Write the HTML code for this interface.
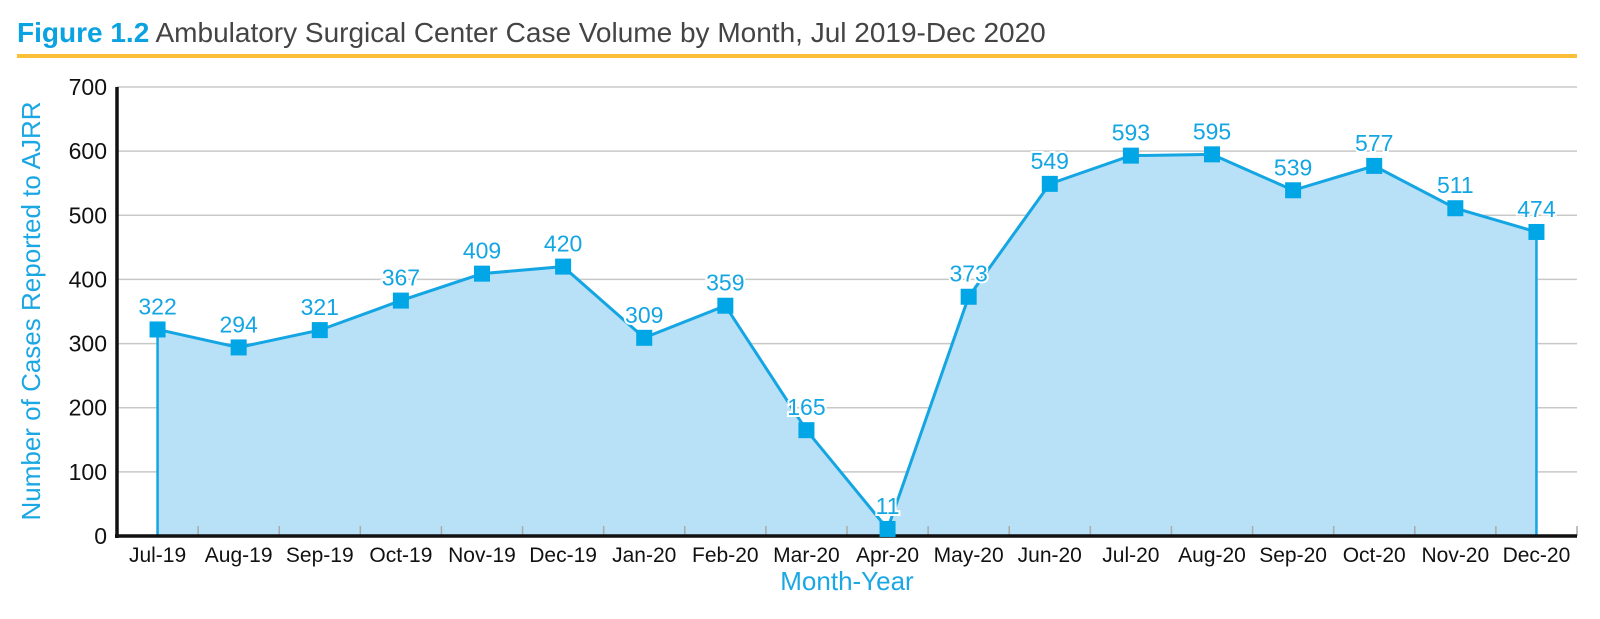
<!DOCTYPE html>
<html><head><meta charset="utf-8"><style>
html,body{margin:0;padding:0;background:#fff;width:1600px;height:619px;overflow:hidden}
svg text{font-family:"Liberation Sans",sans-serif}
</style></head><body>
<svg id="chart" width="1600" height="619" viewBox="0 0 1600 619" xmlns="http://www.w3.org/2000/svg">
<text x="17" y="42" font-size="28"><tspan fill="#0aa2e0" font-weight="bold">Figure 1.2</tspan><tspan fill="#444"> Ambulatory Surgical Center Case Volume by Month, Jul 2019-Dec 2020</tspan></text>
<rect x="17" y="54" width="1560" height="4" fill="#fbbf3a"/>
<g id="grid"></g>
<g id="area"></g>
<g id="axes"></g>
<g id="marks"></g>
<text transform="translate(40,311) rotate(-90)" text-anchor="middle" font-size="26" fill="#1aa7e3">Number of Cases Reported to AJRR</text>
<text x="847" y="590" text-anchor="middle" font-size="26" fill="#1aa7e3">Month-Year</text>
</svg>
<script>
const categories=["Jul-19","Aug-19","Sep-19","Oct-19","Nov-19","Dec-19","Jan-20","Feb-20","Mar-20","Apr-20","May-20","Jun-20","Jul-20","Aug-20","Sep-20","Oct-20","Nov-20","Dec-20"];
const values=[322,294,321,367,409,420,309,359,165,11,373,549,593,595,539,577,511,474];
const yTicks=[0,100,200,300,400,500,600,700];
const NS="http://www.w3.org/2000/svg";
const L=117,R=1577,T=87,B=536,YMAX=700;
const bw=(R-L)/categories.length;
const xs=i=>L+bw*(i+0.5);
const ys=v=>B-(v/YMAX)*(B-T);
function mk(tag,attrs,parent){const e=document.createElementNS(NS,tag);for(const k in attrs)e.setAttribute(k,attrs[k]);document.getElementById(parent).appendChild(e);return e;}
yTicks.forEach(t=>{
  if(t>0){const g=mk('line',{x1:L,x2:R,y1:ys(t),y2:ys(t),stroke:'#c8c8c8','stroke-width':1.5},'grid');
  
  }
  const lb=mk('text',{x:L-10,y:ys(t)+8,'text-anchor':'end','font-size':23,fill:'#111'},'axes');
  lb.textContent=t;
  
  
});
let d='M'+xs(0)+','+B;
values.forEach((v,i)=>{d+=' L'+xs(i)+','+ys(v);});
d+=' L'+xs(values.length-1)+','+B+' Z';
const ar=mk('path',{d:d,fill:'#b8e0f6'},'area');


const e1=mk('line',{x1:xs(0),x2:xs(0),y1:ys(values[0]),y2:B,stroke:'#14a5e3','stroke-width':2.5},'area');


const n=values.length-1;
const e2=mk('line',{x1:xs(n),x2:xs(n),y1:ys(values[n]),y2:B,stroke:'#14a5e3','stroke-width':2.5},'area');


categories.forEach((c,i)=>{
  if(i>0){const tk=mk('line',{x1:L+bw*i,x2:L+bw*i,y1:B-10,y2:B,stroke:'#aaa','stroke-width':1.5},'axes');
  
  }
  const lb=mk('text',{x:xs(i),y:B+26,'text-anchor':'middle','font-size':21,fill:'#111'},'axes');
  lb.textContent=c;
  
  
});
const rt=mk('line',{x1:R,x2:R,y1:B-10,y2:B,stroke:'#aaa','stroke-width':1.5},'axes');


const ya=mk('line',{x1:L,x2:L,y1:T,y2:B+2,stroke:'#111','stroke-width':3.5},'axes');


const xa=mk('line',{x1:L-2,x2:R,y1:B,y2:B,stroke:'#111','stroke-width':3.5},'axes');


const pl=mk('polyline',{points:values.map((v,i)=>xs(i)+','+ys(v)).join(' '),fill:'none',stroke:'#14a5e3','stroke-width':3},'marks');


values.forEach((v,i)=>{
  const m=mk('rect',{x:xs(i)-8,y:ys(v)-8,width:16,height:16,fill:'#00a6e6'},'marks');
  
  
  const t=mk('text',{x:xs(i),y:ys(v)-15,'text-anchor':'middle','font-size':23,fill:'#14a5e3',stroke:'#fff','stroke-width':4,'paint-order':'stroke'},'marks');
  t.textContent=v;
  
  
});
</script>
</body></html>
